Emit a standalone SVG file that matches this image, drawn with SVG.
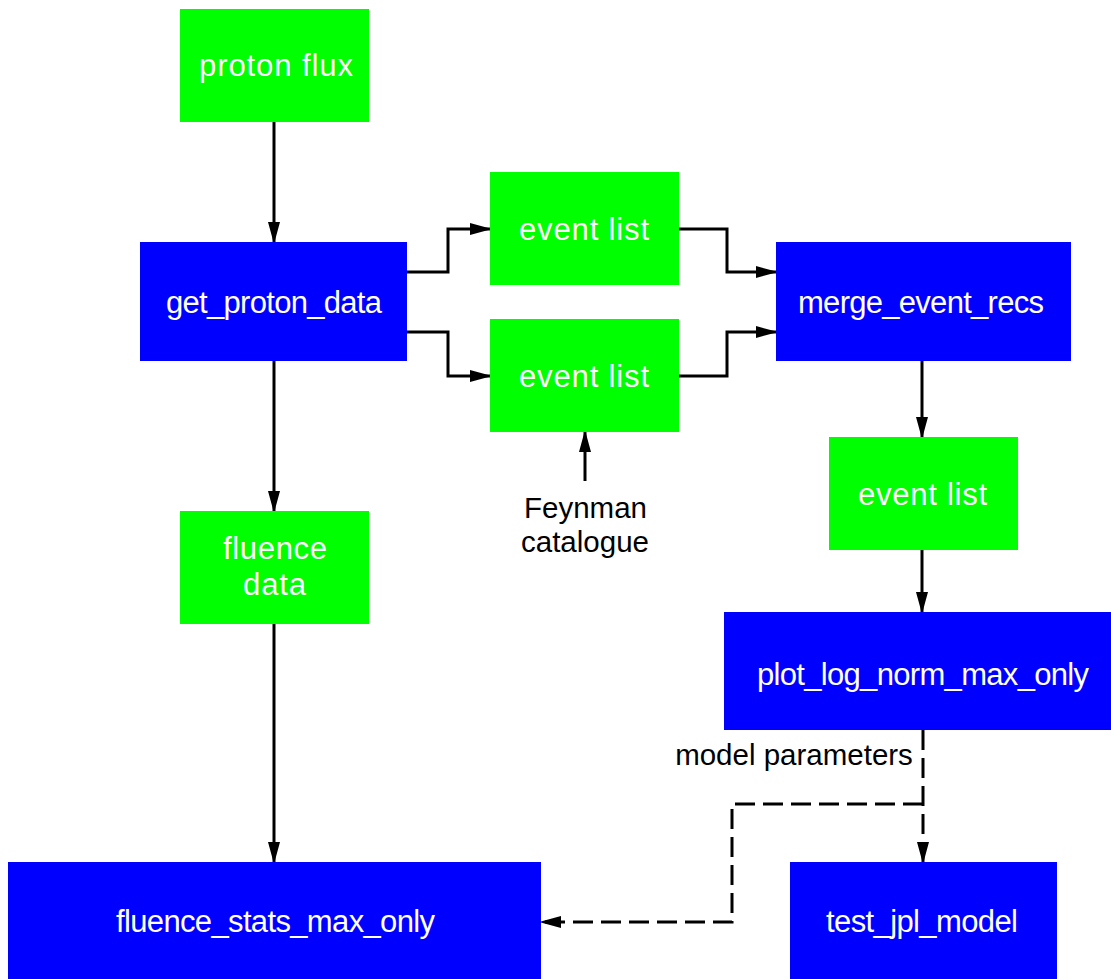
<svg xmlns="http://www.w3.org/2000/svg" width="1111" height="979" viewBox="0 0 1111 979">
<style>
.g{fill:#00ff00}
.b{fill:#0000ff}
.t{font-family:"Liberation Sans",Arial,sans-serif;font-size:31px;fill:#ffffff;text-anchor:middle}
.l{font-family:"Liberation Sans",Arial,sans-serif;font-size:29.5px;fill:#000000;text-anchor:middle}
.c{fill:none;stroke:#000;stroke-width:3}
.d{fill:none;stroke:#000;stroke-width:3;stroke-dasharray:20,8}
</style>
<defs>
<marker id="ah" markerWidth="22" markerHeight="12" refX="20" refY="6" orient="auto" markerUnits="userSpaceOnUse">
<path d="M0,0 L22,6 L0,12 Z" fill="#000"/>
</marker>
</defs>
<rect width="1111" height="979" fill="#fff"/>
<g id="connectors">
<path class="c" d="M274,122 V242" marker-end="url(#ah)"/>
<path class="c" d="M407,272 H448 V229 H490" marker-end="url(#ah)"/>
<path class="c" d="M407,332 H448 V376 H490" marker-end="url(#ah)"/>
<path class="c" d="M679,229 H727 V272 H776" marker-end="url(#ah)"/>
<path class="c" d="M679,376 H727 V332 H776" marker-end="url(#ah)"/>
<path class="c" d="M585,481 V432" marker-end="url(#ah)"/>
<path class="c" d="M922,361 V437" marker-end="url(#ah)"/>
<path class="c" d="M922,550 V612" marker-end="url(#ah)"/>
<path class="c" d="M274,361 V511" marker-end="url(#ah)"/>
<path class="c" d="M274,624 V862" marker-end="url(#ah)"/>
<path class="d" d="M923,730 V862" marker-end="url(#ah)"/>
<path class="d" d="M923,804 H732 V922 H541" marker-end="url(#ah)"/>
<text class="l" x="794" y="765">model parameters</text>
<text class="l" x="585.5" y="518">Feynman</text>
<text class="l" x="585" y="552">catalogue</text>
</g>
<g id="proton_flux"><rect class="g" x="180" y="9" width="189" height="113"/><text class="t" x="276" y="76" textLength="154">proton flux</text></g>
<g id="get_proton_data"><rect class="b" x="140" y="242" width="267" height="119"/><text class="t" x="274" y="313" textLength="216">get_proton_data</text></g>
<g id="event_list_1"><rect class="g" x="490" y="172" width="189" height="113"/><text class="t" x="584" y="240" textLength="130">event list</text></g>
<g id="event_list_2"><rect class="g" x="490" y="319" width="189" height="113"/><text class="t" x="584" y="387" textLength="130">event list</text></g>
<g id="merge_event_recs"><rect class="b" x="776" y="242" width="295" height="119"/><text class="t" x="921" y="313" textLength="246">merge_event_recs</text></g>
<g id="event_list_3"><rect class="g" x="829" y="437" width="189" height="113"/><text class="t" x="922.5" y="505" textLength="129">event list</text></g>
<g id="fluence_data"><rect class="g" x="180" y="511" width="189" height="113"/><text class="t" x="275" y="559" textLength="104">fluence</text><text class="t" x="274.5" y="595" textLength="63">data</text></g>
<g id="plot_log_norm_max_only"><rect class="b" x="724" y="612" width="387" height="118"/><text class="t" x="923" y="685" textLength="332">plot_log_norm_max_only</text></g>
<g id="fluence_stats_max_only"><rect class="b" x="8" y="862" width="533" height="117"/><text class="t" x="275.5" y="932" textLength="319">fluence_stats_max_only</text></g>
<g id="test_jpl_model"><rect class="b" x="790" y="862" width="267" height="117"/><text class="t" x="922" y="932" textLength="192">test_jpl_model</text></g>
</svg>
